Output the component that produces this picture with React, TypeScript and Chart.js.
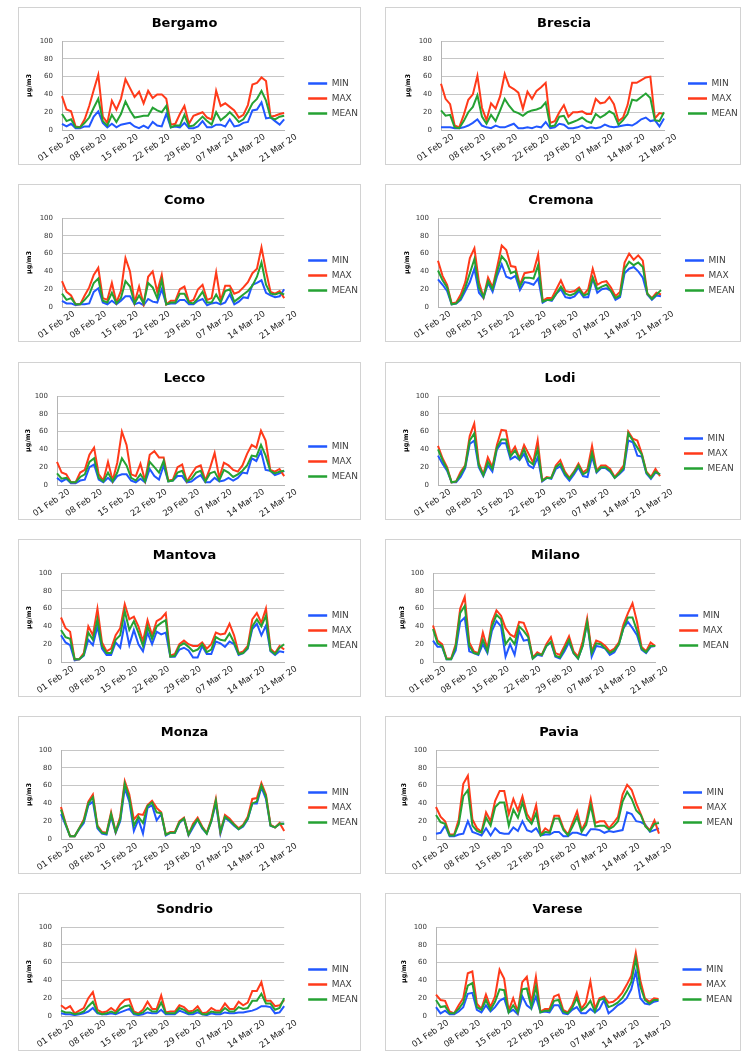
import React, { useEffect, useRef } from 'react';
import { Chart, registerables } from 'chart.js';

Chart.register(...registerables);

// ---------- categories & tick labels ----------
const days = [
  '01 Feb 20', '02 Feb 20', '03 Feb 20', '04 Feb 20', '05 Feb 20', '06 Feb 20', '07 Feb 20',
  '08 Feb 20', '09 Feb 20', '10 Feb 20', '11 Feb 20', '12 Feb 20', '13 Feb 20', '14 Feb 20',
  '15 Feb 20', '16 Feb 20', '17 Feb 20', '18 Feb 20', '19 Feb 20', '20 Feb 20', '21 Feb 20',
  '22 Feb 20', '23 Feb 20', '24 Feb 20', '25 Feb 20', '26 Feb 20', '27 Feb 20', '28 Feb 20',
  '29 Feb 20', '01 Mar 20', '02 Mar 20', '03 Mar 20', '04 Mar 20', '05 Mar 20', '06 Mar 20',
  '07 Mar 20', '08 Mar 20', '09 Mar 20', '10 Mar 20', '11 Mar 20', '12 Mar 20', '13 Mar 20',
  '14 Mar 20', '15 Mar 20', '16 Mar 20', '17 Mar 20', '18 Mar 20', '19 Mar 20', '20 Mar 20',
  '21 Mar 20',
];
const tickLabels = ['01 Feb 20', '08 Feb 20', '15 Feb 20', '22 Feb 20', '29 Feb 20', '07 Mar 20', '14 Mar 20', '21 Mar 20'];
const seriesNames = ['MIN', 'MAX', 'MEAN'];
const yAxisTitle = 'µg/m3';

// ---------- series values ----------
const bergamoMin = [7,4,7,2,2,4,4,15,21,8, 3,7,3,6,7,8,4,2,5,2, 9,5,4,18,3,4,3,8,2,2, 4,10,3,3,6,6,4,12,4,5, 8,9,22,23,31,13,14,10,6,12];
const bergamoMax = [38,23,21,4,3,12,27,45,62,15, 8,33,23,35,57,47,37,43,30,44, 36,40,40,35,6,7,18,27,7,16, 18,20,14,12,44,27,30,26,22,14, 17,28,51,53,59,55,15,16,18,19];
const bergamoMean = [18,10,12,3,3,8,14,25,35,10, 5,17,9,18,32,22,14,15,16,16, 25,22,20,27,3,5,5,17,4,5, 10,15,10,6,20,11,15,20,15,9, 12,20,30,35,44,33,14,12,15,16];

const bresciaMin = [3,3,3,2,2,3,5,8,12,5, 3,2,5,3,3,5,7,2,2,3, 2,4,3,9,2,3,7,6,2,2, 3,5,2,3,2,3,6,4,3,4, 5,6,5,8,12,14,10,11,4,13];
const bresciaMax = [52,35,29,5,3,17,34,40,61,25, 11,30,24,38,63,49,46,42,24,43, 35,44,48,53,8,10,20,28,15,20, 20,21,18,18,35,30,31,37,29,10, 14,28,53,53,56,59,60,13,19,18];
const bresciaMean = [22,16,17,3,2,10,20,26,39,15, 7,17,10,22,35,27,21,19,16,20, 22,23,25,31,4,5,15,16,7,9, 11,14,10,8,18,14,17,21,18,6, 11,18,34,33,37,41,36,11,10,20];

const comoMin = [7,4,4,2,3,3,4,17,21,5, 3,7,3,7,12,12,3,5,2,9, 6,5,20,3,4,4,8,8,3,3, 7,9,2,4,5,3,5,14,3,6, 11,10,25,27,30,16,13,11,12,20];
const comoMax = [29,17,13,3,3,13,22,36,44,10, 8,27,5,18,55,40,5,23,3,34, 40,17,36,3,7,7,20,23,6,8, 20,25,8,10,39,7,24,24,15,17, 22,28,38,43,67,40,17,15,18,10];
const comoMean = [15,8,10,3,3,8,14,27,32,7, 5,16,4,10,29,23,4,13,4,27, 22,10,30,3,5,5,15,15,5,4, 10,17,5,5,14,5,18,20,6,10, 14,18,24,34,50,25,15,14,16,14];

const cremonaMin = [31,25,18,3,4,8,18,28,43,16, 10,27,17,35,48,34,32,35,19,28, 27,25,32,5,8,7,15,20,11,10, 12,18,11,11,32,16,20,21,18,8, 11,38,43,45,40,33,14,8,13,12];
const cremonaMax = [52,35,25,4,5,14,28,55,66,28, 11,33,22,45,69,64,46,45,25,38, 39,40,59,7,10,10,20,30,18,17, 18,22,14,20,43,25,28,29,22,12, 17,50,60,53,58,52,15,10,16,14];
const cremonaMean = [41,30,22,3,4,10,22,38,54,22, 11,29,20,40,57,51,38,40,23,33, 33,32,47,6,8,8,15,23,15,13, 15,20,13,15,33,20,23,25,18,10, 13,43,51,47,50,45,15,9,14,19];

const leccoMin = [8,4,7,2,2,5,6,20,23,6, 3,8,3,10,12,12,5,3,7,3, 18,10,6,22,4,5,10,10,3,4, 8,11,3,3,8,4,5,8,5,8, 14,13,30,27,38,17,16,11,13,16];
const leccoMax = [26,14,12,3,3,14,17,34,42,12, 5,26,5,25,60,45,12,10,24,5, 34,38,31,31,5,6,20,23,4,12, 20,22,5,19,36,8,25,22,17,15, 22,35,45,42,61,50,17,15,18,10];
const leccoMean = [13,7,8,3,3,9,12,26,30,8, 4,14,4,14,30,22,8,5,12,4, 26,20,14,27,4,5,14,16,4,7, 14,16,4,13,15,5,17,14,9,12, 16,22,33,32,45,33,16,13,15,16];

const lodiMin = [33,24,16,3,3,9,19,46,50,20, 10,22,15,40,47,47,29,32,28,35, 22,19,31,4,8,7,18,21,11,5, 12,20,10,9,32,14,19,19,15,8, 12,17,50,48,33,32,13,7,14,12];
const lodiMax = [44,30,20,3,4,15,22,55,69,25, 12,31,20,45,62,61,35,43,30,45, 35,25,50,5,9,8,22,28,15,8, 15,24,14,18,44,16,22,22,18,9, 15,22,60,52,50,35,15,9,18,10];
const lodiMean = [40,28,18,3,4,12,21,50,58,22, 11,26,18,42,51,51,32,39,29,40, 27,23,40,5,8,8,20,24,13,7, 14,22,12,15,36,15,20,20,16,8, 13,19,58,50,42,34,14,8,15,12];

const mantovaMin = [30,22,19,2,3,7,25,19,40,15, 8,8,22,16,44,19,36,20,12,33, 20,34,31,33,6,6,14,16,13,5, 5,18,9,9,23,21,17,23,20,8, 10,15,37,43,30,41,12,8,12,11];
const mantovaMax = [50,38,34,3,3,10,40,30,60,22, 12,15,30,38,65,48,51,40,23,47, 30,46,49,55,7,9,20,24,20,18, 18,22,15,20,33,31,32,43,30,10, 12,18,48,55,44,60,15,10,18,14];
const mantovaMean = [36,28,26,3,3,8,33,25,48,18, 10,10,25,30,57,36,46,33,18,40, 26,40,44,47,6,7,18,21,17,12, 14,20,11,14,28,25,24,32,22,9, 10,16,40,48,40,52,13,9,16,20];

const milanoMin = [24,17,17,3,3,13,45,50,12,10, 8,20,10,35,46,40,6,20,8,35, 24,25,4,8,7,18,22,6,4,12, 22,10,4,18,45,6,18,17,15,8, 11,20,38,45,38,30,14,10,17,18];
const milanoMax = [41,24,20,4,4,20,60,73,22,12, 10,33,15,45,58,52,38,31,28,45, 44,31,5,11,8,20,28,10,8,18, 29,12,6,23,49,12,24,22,18,12, 15,22,42,55,66,45,17,12,22,18];
const milanoMean = [37,21,18,3,3,17,55,63,18,10, 9,25,12,40,53,48,20,27,20,40, 35,28,4,9,8,18,23,7,5,15, 25,10,4,18,45,10,21,20,15,10, 13,20,38,50,50,35,15,11,18,18];

const monzaMin = [28,16,3,3,11,18,38,42,12,6, 5,25,7,20,57,42,9,22,6,35, 38,21,28,4,7,7,18,23,4,13, 22,12,6,20,40,6,24,20,15,11, 14,22,40,40,58,45,15,13,17,17];
const monzaMax = [36,18,3,3,12,22,42,50,15,8, 7,30,8,25,65,50,22,28,27,38, 43,35,30,5,8,8,20,24,5,17, 24,14,7,22,45,8,27,23,17,12, 16,25,45,46,63,50,16,13,18,9];
const monzaMean = [33,17,3,3,12,20,40,47,14,7, 6,28,8,22,62,46,15,25,18,37, 41,30,29,5,7,7,19,23,5,15, 22,13,6,20,43,8,25,21,16,11, 15,23,40,42,60,48,15,13,17,17];

const paviaMin = [6,7,15,3,3,5,6,20,8,6, 4,12,4,12,7,6,6,13,9,20, 10,8,12,4,5,5,8,8,3,3, 7,7,5,4,11,11,10,7,9,8, 9,10,30,28,20,19,16,8,10,12];
const paviaMax = [36,25,20,5,5,22,62,71,22,12, 8,30,20,43,54,54,28,45,32,48, 28,20,38,5,12,8,26,26,12,5, 18,31,10,20,45,18,20,20,12,18, 25,50,61,55,40,28,15,10,21,6];
const paviaMean = [27,19,17,4,4,17,48,55,15,9, 7,24,15,36,41,41,15,33,24,41, 23,17,29,4,8,7,23,23,10,4, 14,25,8,16,38,14,15,15,11,14, 20,42,53,45,32,27,14,9,17,18];

const sondrioMin = [3,2,2,1,2,3,5,9,3,2, 2,3,2,4,6,8,2,1,2,4, 3,3,7,2,2,2,6,4,2,2, 4,2,1,3,2,2,4,3,3,4, 4,5,6,8,11,11,10,3,4,11];
const sondrioMax = [12,8,11,3,6,9,20,27,7,4, 5,9,5,13,18,19,5,3,7,16, 8,8,23,4,5,5,12,10,5,6, 11,3,4,9,6,6,14,8,8,16, 12,15,28,28,38,17,17,11,12,18];
const sondrioMean = [6,4,4,2,3,5,11,16,4,2, 3,5,3,8,11,12,3,2,4,9, 5,5,15,3,3,3,9,7,3,4, 7,2,2,5,4,4,9,5,5,10, 8,9,17,17,25,14,14,7,9,20];

const vareseMin = [10,3,6,2,2,5,10,25,26,7, 4,12,5,10,17,20,4,7,2,22, 12,8,22,4,5,4,12,12,3,2, 7,10,3,3,8,4,8,18,3,7, 12,15,20,30,50,20,14,13,16,17];
const vareseMax = [24,18,17,5,3,12,20,48,50,14, 8,24,10,22,52,42,6,20,5,38, 44,15,44,5,8,8,22,24,7,4, 12,26,8,15,39,8,20,22,15,16, 20,26,35,45,71,40,20,16,20,19];
const vareseMean = [18,10,11,3,3,8,15,34,37,10, 7,18,7,16,30,29,4,12,4,30, 31,10,33,4,6,6,17,18,5,3, 9,20,6,10,17,5,18,20,10,12, 15,20,28,38,64,33,18,14,18,18];

// ---------- panels (names, series, y step) ----------
const panels = [
  { name: 'Bergamo', min: bergamoMin, max: bergamoMax, mean: bergamoMean, step: 10 },
  { name: 'Brescia', min: bresciaMin, max: bresciaMax, mean: bresciaMean, step: 10 },
  { name: 'Como', min: comoMin, max: comoMax, mean: comoMean, step: 10 },
  { name: 'Cremona', min: cremonaMin, max: cremonaMax, mean: cremonaMean, step: 10 },
  { name: 'Lecco', min: leccoMin, max: leccoMax, mean: leccoMean, step: 20 },
  { name: 'Lodi', min: lodiMin, max: lodiMax, mean: lodiMean, step: 10 },
  { name: 'Mantova', min: mantovaMin, max: mantovaMax, mean: mantovaMean, step: 10 },
  { name: 'Milano', min: milanoMin, max: milanoMax, mean: milanoMean, step: 10 },
  { name: 'Monza', min: monzaMin, max: monzaMax, mean: monzaMean, step: 10 },
  { name: 'Pavia', min: paviaMin, max: paviaMax, mean: paviaMean, step: 10 },
  { name: 'Sondrio', min: sondrioMin, max: sondrioMax, mean: sondrioMean, step: 10 },
  { name: 'Varese', min: vareseMin, max: vareseMax, mean: vareseMean, step: 10 },
];

// ---------- layout (positions / sizes, kept apart from data) ----------
const PANEL_H = 158;
// x, y: box position; w: box width; l: plot left inside box; pl: layout padding left;
// rp: layout padding right; yt: distance y-title centre -> plot left; lt: legend offset
const geometry = [
  { x: 18, y: 7, w: 343, l: 44, pl: -10, rp: 0, yt: 33, lt: 25 },
  { x: 385, y: 7, w: 356, l: 56, pl: 2, rp: 0, yt: 33, lt: 25 },
  { x: 18, y: 184, w: 343, l: 44, pl: -10, rp: 0, yt: 33, lt: 25 },
  { x: 385, y: 184, w: 356, l: 53, pl: -1, rp: 3, yt: 31, lt: 25 },
  { x: 18, y: 362, w: 343, l: 39, pl: -10, rp: 0, yt: 29, lt: 41 },
  { x: 385, y: 362, w: 356, l: 53, pl: -2, rp: 4, yt: 32, lt: 25 },
  { x: 18, y: 539, w: 343, l: 43, pl: -10, rp: 0, yt: 32, lt: 25 },
  { x: 385, y: 539, w: 356, l: 48, pl: -6, rp: 9, yt: 31, lt: 25 },
  { x: 18, y: 716, w: 343, l: 43, pl: -10, rp: 0, yt: 32, lt: 25 },
  { x: 385, y: 716, w: 356, l: 51, pl: -3, rp: 5, yt: 32, lt: 25 },
  { x: 18, y: 893, w: 343, l: 43, pl: -10, rp: 0, yt: 32, lt: 25 },
  { x: 385, y: 893, w: 356, l: 51, pl: -6, rp: 5, yt: 32, lt: 25 },
];

const FONT = '"DejaVu Sans", Verdana, sans-serif';
const BLUE = '#2157FF';
const RED = '#FF3A1A';
const GREEN = '#25A233';
const GRID = '#c6c6c6';
const AXIS = '#b4b4b4';

type Panel = typeof panels[number];
type Geo = typeof geometry[number];

function PanelChart({ p, g }: { p: Panel; g: Geo }) {
  const ref = useRef<HTMLCanvasElement>(null);

  useEffect(() => {
    const canvas = ref.current;
    if (!canvas) return;
    const yTitleSize = 6.5;
    const yTitlePad = g.l - g.yt - g.pl - (yTitleSize * 1.2) / 2;
    const legendTitlePad = (g.lt - 1.2) / 2;

    const chart = new Chart(canvas, {
      type: 'line',
      data: {
        labels: days,
        datasets: [
          { label: seriesNames[0], data: p.min, borderColor: BLUE, backgroundColor: BLUE, order: 3 },
          { label: seriesNames[1], data: p.max, borderColor: RED, backgroundColor: RED, order: 2 },
          { label: seriesNames[2], data: p.mean, borderColor: GREEN, backgroundColor: GREEN, order: 1 },
        ],
      },
      options: {
        responsive: false,
        animation: false,
        events: [],
        elements: {
          line: { borderWidth: 2, tension: 0 },
          point: { radius: 0, borderWidth: 2.5 },
        },
        layout: { padding: { left: g.pl, right: g.rp, top: 0, bottom: 0 } },
        plugins: {
          title: {
            display: true,
            text: p.name,
            color: '#000',
            font: { family: FONT, size: 13, weight: 'bold' },
            padding: { top: 9, bottom: 9.4 },
          },
          legend: {
            position: 'right',
            title: { display: true, text: '', font: { size: 1 }, padding: { top: legendTitlePad, bottom: legendTitlePad } },
            labels: {
              usePointStyle: true,
              pointStyle: 'line',
              pointStyleWidth: 19,
              padding: 6,
              color: '#404040',
              font: { family: FONT, size: 9 },
              sort: (a: any, b: any) => a.datasetIndex - b.datasetIndex,
            },
          },
          tooltip: { enabled: false },
        },
        scales: {
          x: {
            type: 'category',
            grid: { display: false, drawTicks: false },
            border: { display: true, color: AXIS, width: 1 },
            ticks: {
              autoSkip: false,
              minRotation: 34,
              maxRotation: 34,
              padding: 2,
              labelOffset: 12,
              color: '#222',
              font: { family: FONT, size: 8.5 },
              callback: (_v: any, i: number) => (tickLabels.includes(days[i]) ? days[i] : ''),
            },
            afterFit: (s: any) => { s.height = 35; },
          },
          y: {
            min: 0,
            max: 100,
            grid: { color: GRID, lineWidth: 1, drawTicks: false },
            border: { display: true, color: AXIS, width: 1 },
            ticks: { stepSize: p.step, padding: 9, color: '#333', font: { family: FONT, size: 7 } },
            title: {
              display: true,
              text: yAxisTitle,
              color: '#000',
              font: { family: FONT, size: yTitleSize, weight: 'bold' },
              padding: { top: yTitlePad, bottom: 0 },
            },
            afterFit: (s: any) => { s.width = g.l - g.pl; },
          },
          gap: {
            type: 'linear',
            position: 'right',
            display: true,
            grid: { display: false, drawTicks: false },
            border: { display: false },
            ticks: { display: false },
            afterFit: (s: any) => { s.width = 18; },
          },
        },
      } as any,
    });
    return () => chart.destroy();
  }, [p, g]);

  return (
    <div
      style={{
        position: 'absolute',
        left: g.x,
        top: g.y,
        width: g.w,
        height: PANEL_H,
        boxSizing: 'border-box',
        border: '1px solid #d2d2d2',
        background: '#fff',
      }}
    >
      <canvas ref={ref} width={g.w} height={PANEL_H} style={{ position: 'absolute', left: -1, top: -1 }} />
    </div>
  );
}

export default function App() {
  return (
    <div style={{ position: 'absolute', left: 0, top: 0, width: 750, height: 1059, background: '#fff' }}>
      {panels.map((p, i) => (
        <PanelChart key={p.name} p={p} g={geometry[i]} />
      ))}
    </div>
  );
}
